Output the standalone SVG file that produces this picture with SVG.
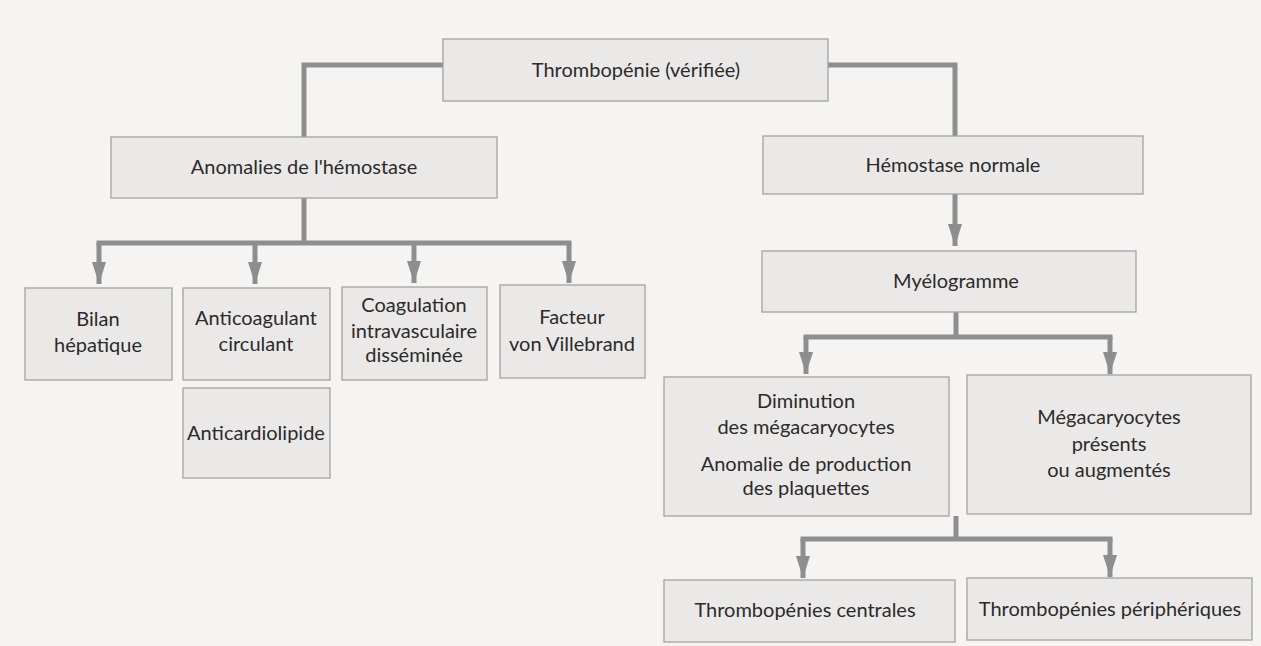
<svg xmlns="http://www.w3.org/2000/svg" width="1261" height="646" viewBox="0 0 1261 646">
<defs>
<style>
.box{fill:#eae9e7;stroke:#a3a3a3;stroke-width:1.3}
.t{font-family:Lato,"Open Sans","Liberation Sans",sans-serif;font-size:20px;fill:#2b2b2b;text-anchor:middle}
.c{fill:none;stroke:#8e8e8e;stroke-width:5}
</style>
<marker id="ah" markerUnits="userSpaceOnUse" markerWidth="24" markerHeight="16" refX="22" refY="8" orient="auto">
<path d="M0,1 L22,8 L0,15 z" fill="#8e8e8e"/>
</marker>
</defs>
<rect width="1261" height="646" fill="#f5f4f2"/>
<g id="connectors">
<path class="c" d="M443,65 H304 V137"/>
<path class="c" d="M828,65 H955 V136"/>
<path class="c" d="M304,198 V243"/>
<path class="c" d="M96.500,243 H571.500"/>
<path class="c" d="M99,243 V284" marker-end="url(#ah)"/>
<path class="c" d="M255,243 V284" marker-end="url(#ah)"/>
<path class="c" d="M414,243 V283" marker-end="url(#ah)"/>
<path class="c" d="M569,243 V283" marker-end="url(#ah)"/>
<path class="c" d="M955,193 V246" marker-end="url(#ah)"/>
<path class="c" d="M956,312 V337"/>
<path class="c" d="M803.500,337 H1112.500"/>
<path class="c" d="M806,337 V374" marker-end="url(#ah)"/>
<path class="c" d="M1110,337 V374" marker-end="url(#ah)"/>
<path class="c" d="M956,516 V539"/>
<path class="c" d="M800.500,539 H1112.500"/>
<path class="c" d="M803,539 V578" marker-end="url(#ah)"/>
<path class="c" d="M1110,539 V577" marker-end="url(#ah)"/>
</g>
<g id="n-thrombopenie"><rect class="box" x="443" y="39" width="385" height="62"/><text class="t" x="636" y="77">Thrombopénie (vérifiée)</text></g>
<g id="n-anomalies"><rect class="box" x="111" y="137" width="386" height="61"/><text class="t" x="304" y="174">Anomalies de l'hémostase</text></g>
<g id="n-hemostase"><rect class="box" x="763" y="136" width="380" height="58"/><text class="t" x="953" y="172">Hémostase normale</text></g>
<g id="n-myelogramme"><rect class="box" x="762" y="251" width="374" height="61"/><text class="t" x="956" y="288">Myélogramme</text></g>
<g id="n-bilan"><rect class="box" x="25" y="288" width="147" height="92"/><text class="t" x="98" y="326">Bilan</text><text class="t" x="98" y="352">hépatique</text></g>
<g id="n-anticoag"><rect class="box" x="183" y="288" width="147" height="92"/><text class="t" x="256" y="325">Anticoagulant</text><text class="t" x="256" y="351">circulant</text></g>
<g id="n-anticardio"><rect class="box" x="183" y="388" width="147" height="90"/><text class="t" x="256" y="440">Anticardiolipide</text></g>
<g id="n-civd"><rect class="box" x="342" y="287" width="145" height="93"/><text class="t" x="414" y="312">Coagulation</text><text class="t" x="414" y="338">intravasculaire</text><text class="t" x="414" y="362">disséminée</text></g>
<g id="n-facteur"><rect class="box" x="500" y="285" width="145" height="93"/><text class="t" x="572" y="324">Facteur</text><text class="t" x="572" y="351">von Villebrand</text></g>
<g id="n-diminution"><rect class="box" x="664" y="377" width="285" height="139"/><text class="t" x="806" y="408">Diminution</text><text class="t" x="806" y="434">des mégacaryocytes</text><text class="t" x="806" y="471">Anomalie de production</text><text class="t" x="806" y="495">des plaquettes</text></g>
<g id="n-megacaryocytes"><rect class="box" x="967" y="375" width="284" height="139"/><text class="t" x="1109" y="424">Mégacaryocytes</text><text class="t" x="1109" y="451">présents</text><text class="t" x="1109" y="477">ou augmentés</text></g>
<g id="n-centrales"><rect class="box" x="664" y="580" width="291" height="62"/><text class="t" x="805" y="617">Thrombopénies centrales</text></g>
<g id="n-peripheriques"><rect class="box" x="967" y="578" width="285" height="62"/><text class="t" x="1110" y="616">Thrombopénies périphériques</text></g>
</svg>
